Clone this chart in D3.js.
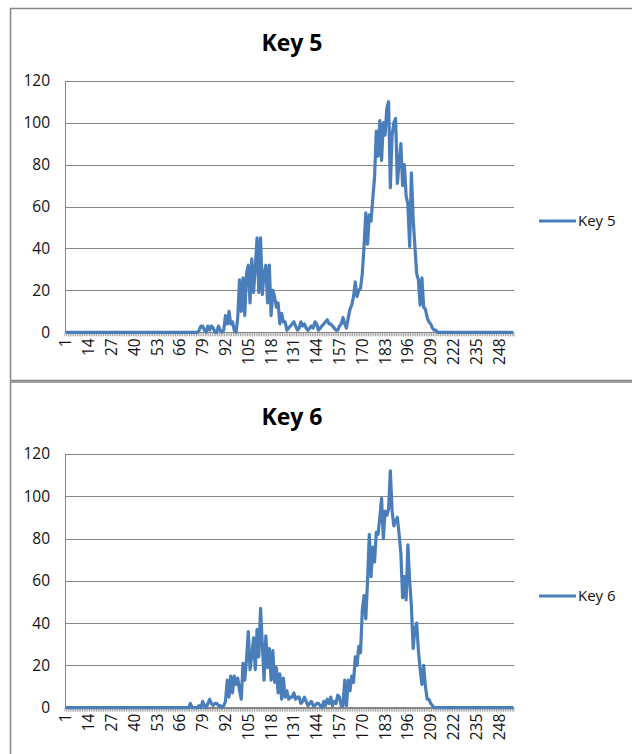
<!DOCTYPE html>
<html>
<head>
<meta charset="utf-8">
<title>Key 5 / Key 6</title>
<script src="https://cdn.jsdelivr.net/npm/d3@7"></script>
<style>
  body { margin: 0; background: #fff; }
  text { font-family: "Open Sans", sans-serif; }
</style>
</head>
<body>
<svg id="mainsvg" width="632" height="754"></svg>
<script>
// categories 1..256 (x axis), only every 13th is labelled
const categories = d3.range(1, 257);
const xTickLabels = [1, 14, 27, 40, 53, 66, 79, 92, 105, 118, 131, 144, 157, 170, 183, 196, 209, 222, 235, 248];
const yTicks = [0, 20, 40, 60, 80, 100, 120];

const key5 = [
  0,0,0,0,0,0,0,0,0,0,0,0,0,0,0,0,0,0,0,0,
  0,0,0,0,0,0,0,0,0,0,0,0,0,0,0,0,0,0,0,0,
  0,0,0,0,0,0,0,0,0,0,0,0,0,0,0,0,0,0,0,0,
  0,0,0,0,0,0,0,0,0,0,0,0,0,0,0,0,
  1,3,3,1,0,3,1,3,2,0,0,3,1,0,1,8,4,10,4,5,1,0,7,
  25,10,26,8,28,32,14,35,19,31,45,19,45,18,28,32,14,32,8,20,17,12,14,4,9,5,5,
  1,2,3,4,5,3,1,2,5,3,4,2,1,2,3,2,5,4,1,2,3,4,5,6,4,4,3,2,1,1,
  3,4,7,4,2,7,11,13,17,24,17,20,21,28,41,57,42,56,53,64,
  74,96,84,101,82,100,94,107,110,69,94,100,102,71,81,90,70,80,65,61,
  41,76,54,41,28,25,13,26,12,11,7,5,4,2,1,1,
  0,0,0,0,0,0,0,0,0,0,0,0,0,0,0,0,0,0,0,0,0,0,
  0,0,0,0,0,0,0,0,0,0,0,0,0,0,0,0,0,0,0,0,0,0
];

const key6 = [
  0,0,0,0,0,0,0,0,0,0,0,0,0,0,0,0,0,0,0,0,
  0,0,0,0,0,0,0,0,0,0,0,0,0,0,0,0,0,0,0,0,
  0,0,0,0,0,0,0,0,0,0,0,0,0,0,0,0,0,0,0,0,
  0,0,0,0,0,0,0,0,0,0,0,
  2,0,0,0,0,1,0,3,1,0,2,4,2,1,2,2,1,1,0,1,
  3,13,5,15,7,15,11,14,8,4,21,13,23,36,18,25,33,18,37,24,
  47,30,13,34,19,28,13,27,12,19,7,16,4,14,5,
  8,4,5,5,7,4,5,5,2,3,5,3,1,2,3,1,1,2,2,1,0,3,1,4,2,5,1,3,2,6,
  5,1,1,13,1,13,8,15,12,24,20,29,26,46,53,42,60,82,62,76,
  69,83,82,90,99,80,93,91,94,112,93,86,88,90,82,73,52,62,51,77,
  60,48,28,37,40,27,18,11,20,10,4,4,2,1,
  0,0,0,0,0,0,0,0,0,0,0,0,0,0,0,0,0,0,0,0,0,0,0,
  0,0,0,0,0,0,0,0,0,0,0,0,0,0,0,0,0,0,0,0,0,0,0
];

const panels = [
  { title: "Key 5", values: key5, boxTop: 8.5, boxBottom: 380.5, plotTop: 80.7, plotBottom: 332.3, titleY: 51, legendY: 221 },
  { title: "Key 6", values: key6, boxTop: 382, boxBottom: 800, plotTop: 454, plotBottom: 707.7, titleY: 425, legendY: 596 }
];

const LINE = "#4a7ebb";
const GRID = "#868686";
const TXT = "#111";
const plotLeft = 65, plotRight = 514;

const svg = d3.select("#mainsvg");

const x = d3.scaleBand().domain(categories).range([plotLeft, plotRight]).padding(0);

panels.forEach(p => {
  const y = d3.scaleLinear().domain([0, 120]).range([p.plotBottom, p.plotTop]);
  const g = svg.append("g");

  // chart frame
  g.append("rect")
    .attr("x", 10.5).attr("y", p.boxTop)
    .attr("width", 700).attr("height", p.boxBottom - p.boxTop)
    .attr("fill", "none").attr("stroke", GRID).attr("stroke-width", 1.5);

  g.append("text")
    .attr("x", 292).attr("y", p.titleY)
    .attr("text-anchor", "middle")
    .attr("font-size", 23).attr("font-weight", "bold")
    .attr("fill", "#000")
    .text(p.title);

  // gridlines + y labels
  const yAxis = d3.axisLeft(y).tickValues(yTicks).tickSize(-(plotRight - plotLeft)).tickPadding(15);
  const ya = g.append("g").attr("transform", `translate(${plotLeft},0)`).call(yAxis);
  ya.select(".domain").attr("stroke", GRID).attr("shape-rendering", "crispEdges");
  ya.selectAll(".tick line").attr("stroke", GRID).attr("shape-rendering", "crispEdges");
  ya.selectAll(".tick").filter(d => d === 0).select("line").remove();
  ya.selectAll(".tick text")
    .attr("font-family", "'Open Sans', sans-serif")
    .attr("font-size", 15.5).attr("fill", TXT);

  // x axis: tick marks between categories
  const xa = g.append("g").attr("transform", `translate(0,${p.plotBottom})`);
  xa.append("line")
    .attr("x1", plotLeft).attr("x2", plotRight)
    .attr("stroke", GRID).attr("shape-rendering", "crispEdges");
  xa.selectAll("line.tk")
    .data(categories.concat([257]))
    .join("line")
    .attr("class", "tk")
    .attr("x1", d => d === 257 ? plotRight : x(d))
    .attr("x2", d => d === 257 ? plotRight : x(d))
    .attr("y1", 0).attr("y2", 4)
    .attr("stroke", GRID).attr("stroke-width", 0.8);
  xa.selectAll("text")
    .data(xTickLabels)
    .join("text")
    .attr("transform", d => `translate(${x(d) + x.bandwidth() / 2},6) rotate(-90)`)
    .attr("dy", "0.35em")
    .attr("text-anchor", "end")
    .attr("font-size", 15.5).attr("fill", TXT)
    .text(d => d);

  // series line
  const line = d3.line()
    .x((d, i) => x(categories[i]) + x.bandwidth() / 2)
    .y(d => y(d));
  g.append("path")
    .datum(p.values)
    .attr("d", line)
    .attr("fill", "none")
    .attr("stroke", LINE)
    .attr("stroke-width", 3.2)
    .attr("stroke-linejoin", "round");

  // legend
  g.append("line")
    .attr("x1", 539).attr("x2", 576)
    .attr("y1", p.legendY).attr("y2", p.legendY)
    .attr("stroke", LINE).attr("stroke-width", 3.2);
  g.append("text")
    .attr("x", 578).attr("y", p.legendY)
    .attr("dy", "0.35em")
    .attr("font-size", 15).attr("fill", TXT)
    .text(p.title);
});
</script>
</body>
</html>
